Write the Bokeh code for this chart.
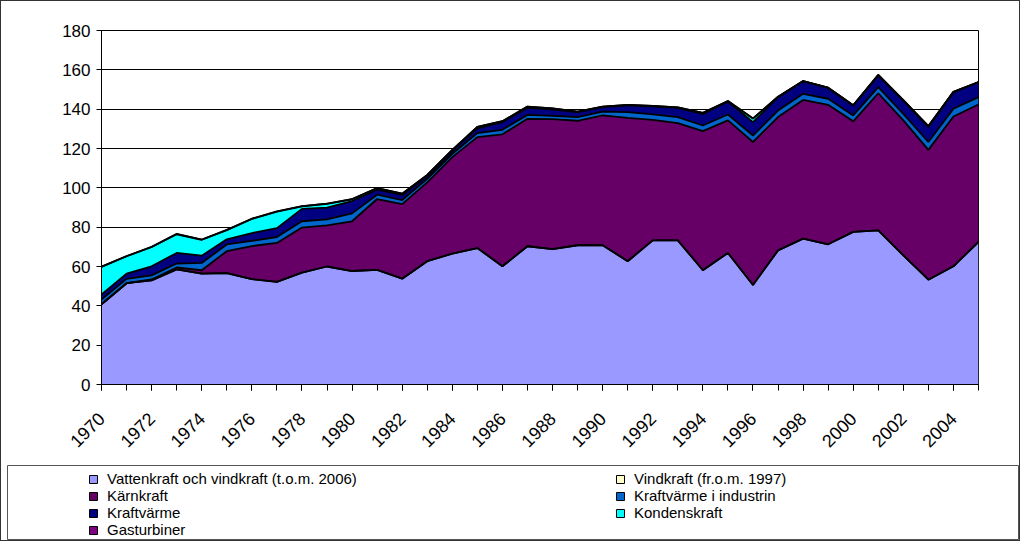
from math import pi
from bokeh.plotting import figure
from bokeh.models import ColumnDataSource, Range1d, FixedTicker, Legend, LegendItem
from bokeh.layouts import column, row
from bokeh.embed import file_html
from bokeh.resources import INLINE

years = list(range(1970, 2006))

vattenkraft = [40.8, 51.5, 52.9, 58.5, 56.4, 56.6, 53.6, 52.2, 56.9, 60.0,
               57.7, 58.3, 53.8, 62.7, 66.5, 69.4, 60.1, 70.3, 68.8, 70.8,
               70.8, 62.7, 73.3, 73.3, 58.1, 66.9, 50.6, 68.2, 74.2, 71.3,
               77.6, 78.4, 65.7, 53.3, 60.1, 72.5]
vindkraft = [0, 0, 0, 0, 0, 0, 0, 0, 0, 0,
             0, 0, 0, 0, 0, 0, 0, 0, 0, 0,
             0, 0, 0, 0, 0, 0, 0, 0, 0, 0,
             0, 0, 0, 0, 0, 0]
karnkraft = [0.0, 0.0, 0.5, 1.0, 1.7, 11.2, 16.8, 19.8, 22.9, 20.9,
             25.3, 36.0, 37.9, 40.1, 49.1, 56.4, 67.1, 64.8, 66.1, 63.3,
             66.0, 72.9, 61.3, 59.6, 70.7, 67.4, 72.7, 67.8, 70.5, 70.9,
             56.2, 69.7, 68.6, 66.0, 76.2, 69.9]
kraftvarme_industri = [2.4, 2.2, 2.1, 2.0, 3.7, 3.4, 2.6, 3.0, 3.2, 3.1,
                       4.0, 2.2, 2.1, 1.8, 1.7, 2.0, 2.3, 2.0, 1.7, 1.9,
                       1.9, 2.9, 2.7, 3.1, 2.9, 3.0, 3.3, 3.3, 3.1, 3.1,
                       3.0, 3.1, 3.3, 4.0, 3.9, 3.7]
kraftvarme = [2.5, 2.7, 4.6, 5.4, 3.7, 2.6, 4.0, 4.5, 6.3, 5.9,
              6.3, 2.6, 2.6, 1.5, 1.6, 2.4, 3.9, 3.6, 3.3, 2.5,
              2.3, 3.4, 4.1, 4.7, 5.9, 6.6, 6.8, 6.8, 6.4, 5.5,
              5.1, 5.9, 6.8, 7.6, 8.5, 7.6]
kondenskraft = [14.1, 8.8, 9.8, 9.5, 8.1, 4.7, 7.2, 8.4, 1.3, 2.0,
                0.9, 0.8, 0.6, 0.5, 0.4, 0.8, 0.5, 0.6, 0.5, 0.3,
                0.3, 0.3, 0.2, 0.2, 0.5, 0.2, 1.8, 0.2, 0.1, 0.1,
                0.1, 0.3, 0.2, 0.5, 0.1, 0.1]
gasturbiner = [0.1, 0.1, 0.1, 0.2, 0.1, 0.1, 0.1, 0.1, 0.1, 0.1,
               0.1, 0.0, 0.0, 0.0, 0.0, 0.0, 0.0, 0.0, 0.0, 0.0,
               0.0, 0.0, 0.0, 0.0, 0.0, 0.0, 0.1, 0.0, 0.0, 0.0,
               0.0, 0.0, 0.0, 0.0, 0.0, 0.0]

series_keys = ["vatten", "vind", "karn", "ind", "kv", "kond", "gas"]
series_labels = ["Vattenkraft och vindkraft (t.o.m. 2006)", "Vindkraft (fr.o.m. 1997)",
                 "Kärnkraft", "Kraftvärme i industrin", "Kraftvärme",
                 "Kondenskraft", "Gasturbiner"]
series_colors = ["#9999FF", "#FFFFCC", "#660066", "#0066CC", "#000080", "#00FFFF", "#800080"]
y_ticks = list(range(0, 181, 20))
x_label_years = years[::2]

source = ColumnDataSource(dict(year=years, vatten=vattenkraft, vind=vindkraft,
                               karn=karnkraft, ind=kraftvarme_industri, kv=kraftvarme,
                               kond=kondenskraft, gas=gasturbiner))

FONT = "Liberation Sans"

p = figure(width=1018, height=460, x_range=Range1d(years[0], years[-1]), y_range=Range1d(0, 180),
           output_backend="svg", toolbar_location=None,
           min_border_left=100, min_border_right=41, min_border_top=29, min_border_bottom=77)
p.background_fill_color = "white"
p.border_fill_color = "white"
p.outline_line_color = "black"

p.varea_stack(stackers=series_keys, x="year", source=source, color=series_colors)
p.vline_stack(stackers=series_keys, x="year", source=source, color="black", line_width=1.8)

p.yaxis.ticker = FixedTicker(ticks=y_ticks)
p.yaxis.axis_line_color = "black"
p.yaxis.major_tick_line_color = "black"
p.yaxis.major_tick_in = 0
p.yaxis.major_tick_out = 5
p.yaxis.minor_tick_line_color = None
p.yaxis.major_label_text_font = FONT
p.yaxis.major_label_text_font_size = "17px"
p.yaxis.major_label_text_color = "black"
p.yaxis.major_label_standoff = 6

p.xaxis.ticker = FixedTicker(ticks=x_label_years, minor_ticks=years)
p.xaxis.axis_line_color = "black"
p.xaxis.major_tick_line_color = "black"
p.xaxis.minor_tick_line_color = "black"
p.xaxis.major_tick_in = 0
p.xaxis.major_tick_out = 6
p.xaxis.minor_tick_in = 0
p.xaxis.minor_tick_out = 6
p.xaxis.major_label_orientation = pi / 4
p.xaxis.major_label_text_font = FONT
p.xaxis.major_label_text_font_size = "18px"
p.xaxis.major_label_text_color = "black"
p.xaxis.major_label_standoff = 25

p.ygrid.ticker = FixedTicker(ticks=y_ticks)
p.ygrid.grid_line_color = "black"
p.ygrid.grid_line_width = 1
p.xgrid.grid_line_color = None

# legend panel
L = figure(width=1018, height=79, x_range=Range1d(0, 1), y_range=Range1d(0, 1),
           output_backend="svg", toolbar_location=None,
           min_border_left=6, min_border_right=0, min_border_top=4, min_border_bottom=1)
L.axis.visible = False
L.grid.visible = False
L.outline_line_color = "#555555"
L.background_fill_color = "white"
L.border_fill_color = "white"

swatches = {}
for key, col in zip(series_keys, series_colors):
    swatches[key] = L.quad(left=[5], right=[6], top=[5], bottom=[4],
                           fill_color=col, line_color="black", line_width=1)

lab = dict(zip(series_keys, series_labels))
col1 = ["vatten", "karn", "kv", "gas"]
col2 = ["vind", "ind", "kond"]
ROW = 17

def make_legend(keys, loc):
    return Legend(items=[LegendItem(label=lab[k], renderers=[swatches[k]]) for k in keys],
                  location=loc, orientation="vertical",
                  label_text_font=FONT, label_text_font_size="15px", label_text_color="black",
                  glyph_width=10, glyph_height=10, label_height=ROW, spacing=0,
                  label_standoff=9, padding=0, margin=0,
                  border_line_color=None, background_fill_alpha=0)

L.add_layout(make_legend(col1, (81, 1)))
L.add_layout(make_legend(col2, (608, 1 + ROW)))

layout = column(p, row(L), spacing=0, styles={"border": "1px solid #333333", "background": "white"})

open("out.html", "w").write(file_html(layout, INLINE))
